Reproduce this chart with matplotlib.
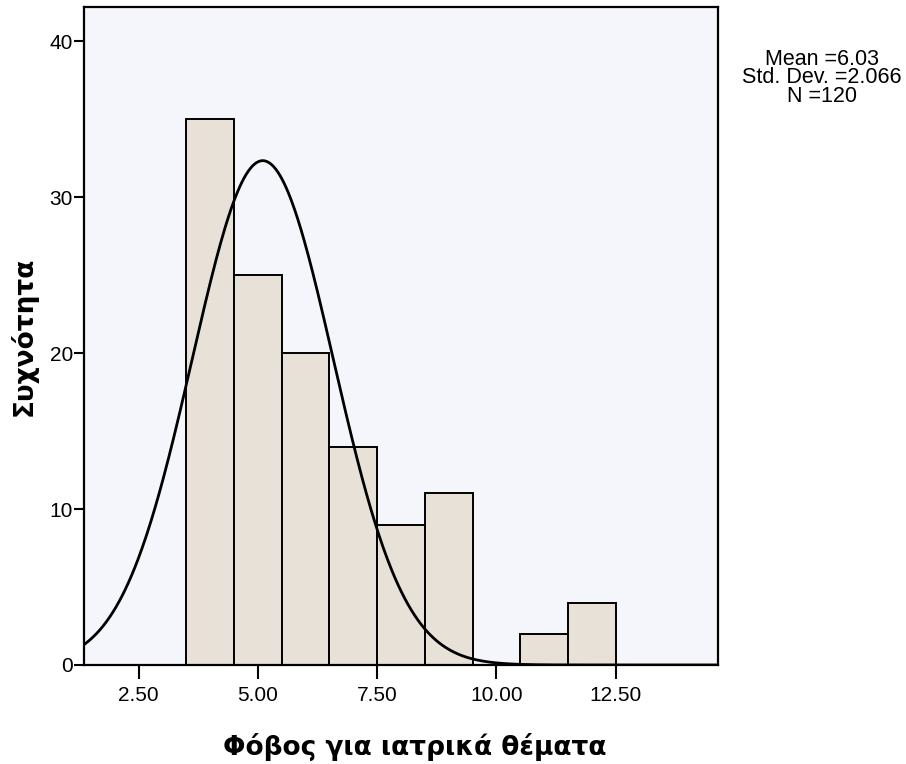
import numpy as np
import matplotlib.pyplot as plt

# Histogram counts per unit bin (left edges)
bin_left = [3.5, 4.5, 5.5, 6.5, 7.5, 8.5, 9.5, 10.5, 11.5]
counts = [35, 25, 20, 14, 9, 11, 0, 2, 4]
bin_width = 1.0

# Summary statistics shown beside the plot
stat_mean = 6.03
stat_sd = 2.066
stat_n = 120

# Normal curve as drawn over the bars
curve_mean = 5.1
curve_sd = 1.48

x_ticks = [2.5, 5.0, 7.5, 10.0, 12.5]
x_ticklabels = ['2.50', '5.00', '7.50', '10.00', '12.50']
y_ticks = [0, 10, 20, 30, 40]

plt.rcParams['font.family'] = ['Liberation Sans', 'DejaVu Sans']

fig = plt.figure(figsize=(9.06, 7.64), dpi=100)
ax = fig.add_axes([0.0927, 0.1296, 0.6998, 0.8612])
ax.set_facecolor('#f5f6fb')

ax.bar(bin_left, counts, width=bin_width, align='edge',
       color='#e7e1d8', edgecolor='black', linewidth=1.4, zorder=2)

xs = np.linspace(1.35, 14.65, 600)
ys = stat_n * bin_width / (curve_sd * np.sqrt(2 * np.pi)) * np.exp(-0.5 * ((xs - curve_mean) / curve_sd) ** 2)
ax.plot(xs, ys, color='black', linewidth=2.0, zorder=3)

ax.set_xlim(1.35, 14.65)
ax.set_ylim(0, 42.2)
ax.set_xticks(x_ticks)
ax.set_xticklabels(x_ticklabels)
ax.set_yticks(y_ticks)
ax.tick_params(axis='both', direction='out', width=1.5, labelsize=15)
ax.tick_params(axis='x', length=10, pad=5)
ax.tick_params(axis='y', length=7, pad=1)
for s in ax.spines.values():
    s.set_linewidth(1.6)

label_font = dict(family=['DejaVu Sans'], fontsize=19, fontweight='bold')
ax.set_xlabel('Φόβος για ιατρικά θέματα', **label_font)
ax.set_ylabel('Συχνότητα', **label_font)
ax.xaxis.set_label_coords(0.522, -0.103)
ax.yaxis.set_label_coords(-0.073, 0.5)

fig.text(0.907, 0.898, f'Mean ={stat_mean:.2f}\nStd. Dev. ={stat_sd:.3f}\nN ={stat_n}',
         ha='center', va='center', fontsize=15.5, linespacing=0.85)

fig.savefig('out.png', dpi=100)
